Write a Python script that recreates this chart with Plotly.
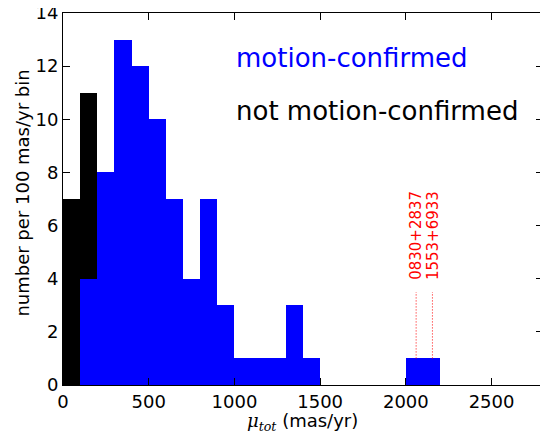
import plotly.graph_objects as go

# Data
bin_left = [0, 100, 200, 300, 400, 500, 600, 700, 800, 900, 1000, 1100, 1200, 1300, 1400,
            1500, 1600, 1700, 1800, 1900, 2000, 2100]
blue_counts = [0, 4, 8, 13, 12, 10, 7, 4, 7, 3, 1, 1, 1, 3, 1,
               0, 0, 0, 0, 0, 1, 1]
black_left = [0, 100]
black_counts = [7, 11]
marked_names = ["0830+2837", "1553+6933"]
marked_x = [2060, 2155]
marked_ybot = [1, 1]
marked_ytop = [3.5, 3.5]
x_ticks = [0, 500, 1000, 1500, 2000, 2500]
y_ticks = [0, 2, 4, 6, 8, 10, 12, 14]

FONT = "DejaVu Sans"

fig = go.Figure()
fig.add_trace(go.Bar(x=black_left, y=black_counts, width=100, offset=0,
                     marker=dict(color="black", line=dict(width=0)), showlegend=False))
fig.add_trace(go.Bar(x=bin_left, y=blue_counts, width=100, offset=0,
                     marker=dict(color="#0000ff", line=dict(width=0)), showlegend=False))

for name, xv, yb, yt in zip(marked_names, marked_x, marked_ybot, marked_ytop):
    fig.add_trace(go.Scatter(x=[xv, xv], y=[yb, yt], mode="lines",
                             line=dict(color="#ff0000", width=1, dash="1px,2px"),
                             showlegend=False, hoverinfo="skip"))
    fig.add_annotation(x=xv, y=3.87, text=name, textangle=-90, showarrow=False,
                       xanchor="center", yanchor="bottom",
                       font=dict(family=FONT, size=15, color="#ff0000"))

fig.add_annotation(x=1000, y=12.3, text="motion-confirmed", showarrow=False,
                   xanchor="left", yanchor="middle",
                   font=dict(family=FONT, size=26, color="#0000ff"))
fig.add_annotation(x=1000, y=10.3, text="not motion-confirmed", showarrow=False,
                   xanchor="left", yanchor="middle",
                   font=dict(family=FONT, size=26, color="black"))

# axis titles as annotations
fig.add_annotation(xref="paper", yref="paper", x=0.498, y=-0.1, yanchor="middle",
                   text="<span style='font-family:DejaVu Serif'><i>μ</i><sub><i>tot</i></sub></span> (mas/yr)",
                   showarrow=False,
                   font=dict(family=FONT, size=18, color="black"))
fig.add_annotation(xref="paper", yref="paper", x=-0.085, y=0.515, xanchor="center",
                   yanchor="middle",
                   text="number per 100 mas/yr bin", textangle=-90, showarrow=False,
                   font=dict(family=FONT, size=18, color="black"))

axis_common = dict(showgrid=False, zeroline=False, showline=True, linecolor="black",
                   linewidth=1, mirror="allticks", ticks="inside", ticklen=7,
                   tickcolor="black", automargin=False, ticklabeloverflow="allow",
                   tickfont=dict(family=FONT, size=18, color="black"))

fig.update_xaxes(range=[0, 2800], tickvals=x_ticks, **axis_common)
fig.update_yaxes(range=[0, 14], tickvals=y_ticks, **axis_common)

# page body has an 8px margin, so the figure is sized to fit the window
fig.update_layout(width=540, height=428, barmode="overlay", bargap=0,
                  plot_bgcolor="white", paper_bgcolor="white",
                  margin=dict(l=55, r=5, t=5, b=51),
                  font=dict(family=FONT, color="black"))

fig.write_html("out.html")
